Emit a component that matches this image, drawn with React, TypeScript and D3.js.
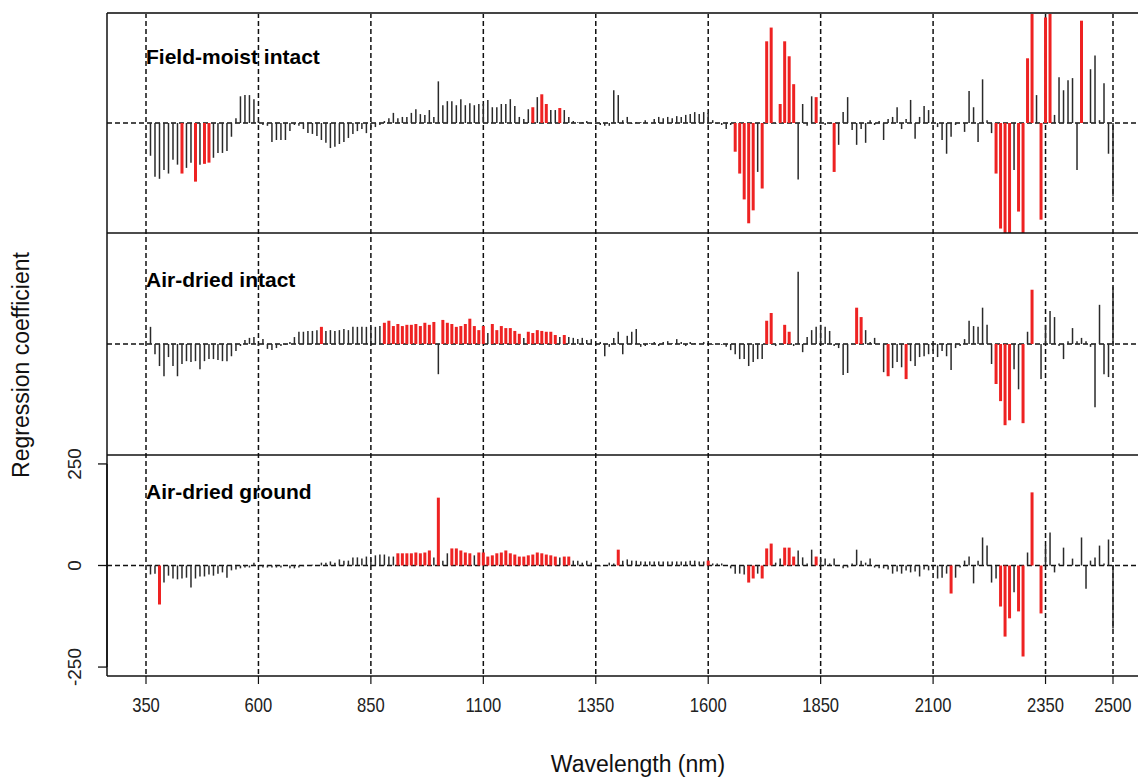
import React from "react";
import * as d3 from "d3";

const WIDTH = 1138;
const HEIGHT = 779;

// wavelengths (nm) of the coefficients, 360..2500 every 10 nm
const wavelengths: number[] = d3.range(360, 2501, 10);
const xTicks = [350, 600, 850, 1100, 1350, 1600, 1850, 2100, 2350, 2500];
const yTicks = [-250, 0, 250];
const panelTitles = ["Field-moist intact", "Air-dried intact", "Air-dried ground"];

const fieldMoist = [
  -81,-133,-138,-116,-125,-91,-103,-125,-111,-98,
  -145,-103,-101,-98,-86,-74,-74,-69,-34,12,
  66,69,69,59,5,-5,-7,-47,-42,-42,
  -42,-20,-5,-7,-15,-25,-27,-32,-42,-49,
  -62,-59,-52,-47,-37,-27,-20,-15,-25,-12,
  -10,-5,5,12,25,12,15,15,25,34,
  22,20,32,15,103,44,54,54,44,59,
  44,49,44,47,47,57,39,39,47,47,
  59,42,15,10,34,39,64,71,47,32,
  32,37,32,15,5,2,2,5,-2,-2,
  -5,-7,-7,81,69,7,15,-2,2,2,
  7,0,10,15,12,15,12,17,15,20,
  22,27,22,27,25,7,-2,-5,-15,-5,
  -71,-125,-189,-248,-216,-121,-162,202,236,-2,
  47,202,165,96,-140,47,-7,66,64,15,
  -5,-2,-121,-54,27,64,-17,-54,-15,-49,
  7,-5,5,-42,10,15,39,-15,10,57,
  -39,15,42,32,7,-10,-42,-76,-34,-5,
  0,-22,79,39,-47,108,7,-25,-125,-261,
  -310,-310,-116,-219,-310,160,330,69,-239,261,
  330,20,113,81,106,111,-116,253,0,133,
  167,7,98,-76,-182,
];

const airDriedIntact = [
  42,-25,-54,-79,-32,-54,-79,-49,-42,-44,
  -42,-62,-42,-37,-37,-39,-42,-42,-30,-17,
  -5,10,15,17,-5,12,-12,-15,-10,-5,
  -2,5,17,30,30,32,32,34,42,32,
  34,32,34,37,34,42,42,42,42,42,
  42,44,52,57,44,49,44,47,47,49,
  44,52,47,54,-74,59,52,49,42,44,
  49,62,44,34,44,27,49,34,44,39,
  39,32,25,15,30,27,34,32,30,30,
  22,17,22,17,15,12,15,10,12,2,
  5,-30,-7,15,30,-25,20,30,37,-7,
  -5,2,5,-5,5,7,2,12,5,-5,
  5,2,0,5,0,-2,0,-2,-7,-15,
  -25,-37,-37,-54,-44,-37,-37,57,76,-5,
  0,47,30,-5,177,-20,17,34,42,47,
  42,32,-5,-10,-76,-71,0,89,66,34,
  5,15,0,-69,-79,-59,-44,-57,-86,-42,
  -54,-32,-30,-25,-17,-32,-17,-30,-64,-10,
  -5,12,57,44,42,89,47,-49,-98,-140,
  -199,-187,-62,-111,-194,30,133,0,-86,47,
  81,66,-5,-37,7,39,7,15,7,-7,
  -155,96,-74,-81,140,
];

const airDriedGround = [
  -22,-20,-96,-42,-25,-32,-34,-32,-30,-54,
  -32,-27,-27,-22,-25,-20,-17,-30,-12,-10,
  -7,-5,-5,7,0,-5,-5,-5,-5,-5,
  0,-7,-7,-5,-2,0,2,0,7,7,
  10,7,15,12,12,20,20,17,22,17,
  25,27,27,22,22,30,30,30,30,32,
  30,32,37,20,167,12,30,42,42,37,
  32,30,25,32,32,22,25,30,32,37,
  30,27,22,22,25,27,32,30,27,25,
  22,20,22,22,12,12,7,12,7,0,
  -2,0,7,5,39,12,15,12,12,10,
  10,10,10,10,10,10,10,10,10,10,
  12,12,10,10,12,5,5,5,0,-7,
  -20,-20,-22,-42,-32,-20,-32,42,54,7,
  17,44,44,22,37,20,5,39,22,17,
  17,5,17,0,-7,-5,5,39,12,7,
  17,-5,-7,-7,-10,-20,-15,-20,-12,-17,
  -15,-27,-10,-12,-7,-32,-30,-20,-69,-30,
  -5,12,22,-44,12,69,49,-42,-32,-101,
  -175,-130,-66,-113,-224,32,180,0,-118,49,
  81,-17,5,44,0,17,-2,69,-57,12,
  20,49,5,64,-155,
];

// wavelengths flagged as important (drawn in red)
const redFieldMoist = [430,460,480,490,1210,1230,1240,1270,1660,1670,1680,1690,1700,1720,1730,1740,1760,1770,1780,1790,1840,1880,2240,2250,2260,2270,2290,2300,2310,2320,2340,2350,2360,2430];
const redAirIntact = [740,880,890,900,910,920,930,940,950,960,970,980,990,1010,1020,1030,1040,1050,1060,1070,1080,1090,1100,1120,1130,1140,1150,1160,1170,1180,1200,1210,1220,1230,1240,1250,1260,1280,1730,1740,1770,1780,1930,1940,2000,2040,2240,2250,2260,2270,2300,2320];
const redAirGround = [380,910,920,930,940,950,960,970,980,1000,1030,1040,1050,1060,1070,1090,1100,1110,1120,1130,1140,1150,1160,1170,1180,1190,1200,1210,1220,1230,1240,1250,1260,1280,1290,1400,1600,1690,1700,1720,1730,1740,1770,1780,1790,1840,2140,2250,2260,2270,2290,2300,2320,2340];

const FONT = "'Liberation Sans', Arial, Helvetica, sans-serif";

export default function App() {
  const plotLeft = 107;
  const plotRight = 1152;
  const panelEdges = [13, 233, 455, 676];
  const x = d3.scaleLinear().domain([350, 2500]).range([146, 1113]);

  const series = [fieldMoist, airDriedIntact, airDriedGround];
  const reds = [redFieldMoist, redAirIntact, redAirGround];
  const titleBaselines = [64, 287, 499];

  const panels = series.map((vals, i) => {
    const top = panelEdges[i];
    const bottom = panelEdges[i + 1];
    const y = d3.scaleLinear().domain([-272, 272]).range([bottom, top]);
    const redSet = new Set(reds[i]);
    const pts = wavelengths.map((w, k) => ({ w, v: vals[k], red: redSet.has(w) }));
    return { top, bottom, y, pts, i };
  });

  const yBottom = panels[2].y;

  return (
    <svg
      width={WIDTH}
      height={HEIGHT}
      style={{ position: "absolute", left: 0, top: 0, display: "block", background: "#fff" }}
      fontFamily={FONT}
    >
      <defs>
        {panels.map((p) => (
          <clipPath id={`clip${p.i}`} key={p.i}>
            <rect x={plotLeft} y={p.top} width={plotRight - plotLeft} height={p.bottom - p.top} />
          </clipPath>
        ))}
      </defs>

      {/* vertical dashed grid lines */}
      {xTicks.map((t) => (
        <line key={`vg${t}`} x1={x(t)} x2={x(t)} y1={panelEdges[0]} y2={panelEdges[3]}
          stroke="#111" strokeWidth={1.5} strokeDasharray="5,3" />
      ))}

      {panels.map((p) => (
        <g key={`panel${p.i}`}>
          {/* zero line */}
          <line x1={plotLeft} x2={plotRight} y1={p.y(0)} y2={p.y(0)}
            stroke="#111" strokeWidth={1.5} strokeDasharray="5,3" />
          <g clipPath={`url(#clip${p.i})`}>
            {p.pts.filter((d) => !d.red).map((d) => (
              <line key={`b${d.w}`} x1={x(d.w)} x2={x(d.w)} y1={p.y(0)} y2={p.y(d.v)}
                stroke="#2a2a2a" strokeWidth={1.5} />
            ))}
            {p.pts.filter((d) => d.red).map((d) => (
              <line key={`r${d.w}`} x1={x(d.w)} x2={x(d.w)} y1={p.y(0)} y2={p.y(d.v)}
                stroke="#ee2222" strokeWidth={3} />
            ))}
          </g>
          <text x={146} y={titleBaselines[p.i]} fontSize={21} fontWeight="bold" fill="#000">
            {panelTitles[p.i]}
          </text>
        </g>
      ))}

      {/* panel frames */}
      <line x1={plotLeft} x2={plotRight} y1={panelEdges[0]} y2={panelEdges[0]} stroke="#444" strokeWidth={2} />
      {panelEdges.slice(1).map((e) => (
        <line key={`pe${e}`} x1={plotLeft} x2={plotRight} y1={e} y2={e} stroke="#111" strokeWidth={1.5} />
      ))}
      <line x1={plotLeft} x2={plotLeft} y1={panelEdges[0]} y2={panelEdges[3]} stroke="#111" strokeWidth={1.5} />

      {/* x axis ticks and labels */}
      {xTicks.map((t) => (
        <g key={`xt${t}`}>
          <line x1={x(t)} x2={x(t)} y1={panelEdges[3]} y2={panelEdges[3] + 8} stroke="#111" strokeWidth={1.2} />
          <text transform={`translate(${x(t)},${712}) scale(0.83,1)`} textAnchor="middle" fontSize={20} fill="#222">
            {t}
          </text>
        </g>
      ))}

      {/* y axis (bottom panel) */}
      <line x1={plotLeft} x2={plotLeft} y1={yBottom(250)} y2={yBottom(-250)} stroke="#111" strokeWidth={1.5} />
      {yTicks.map((t) => (
        <g key={`yt${t}`}>
          <line x1={plotLeft - 9} x2={plotLeft} y1={yBottom(t)} y2={yBottom(t)} stroke="#111" strokeWidth={1.3} />
          <text transform={`translate(${81},${yBottom(t)}) rotate(-90)`} textAnchor="middle" fontSize={19} fill="#222">
            {t}
          </text>
        </g>
      ))}

      {/* axis titles */}
      <text transform={`translate(${29},${365}) rotate(-90)`} textAnchor="middle" fontSize={23} fill="#111">
        Regression coefficient
      </text>
      <text x={638} y={772} textAnchor="middle" fontSize={23} fill="#111">
        Wavelength (nm)
      </text>
    </svg>
  );
}
